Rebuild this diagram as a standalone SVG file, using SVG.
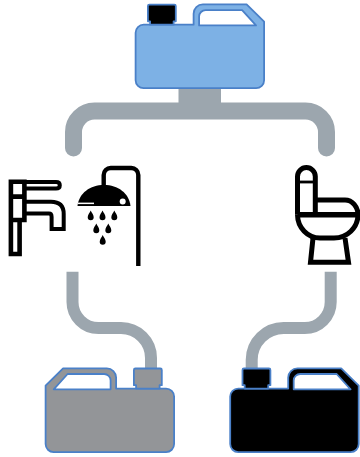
<svg xmlns="http://www.w3.org/2000/svg" xmlns:xlink="http://www.w3.org/1999/xlink" width="360" height="457" viewBox="0 0 360 457">
<style>
.pipe{fill:none;stroke:#9ca6ae}
.outline{stroke:#4a80c8;stroke-width:1.8;stroke-linejoin:round}
.ic{fill:none;stroke:#000;stroke-linejoin:miter}
.drop{fill:#000}
</style>
<defs>
<path id="jug-body" fill-rule="evenodd" d="M8 0H58V-11A9.300 9.300 0 0 1 67.300-20.300H111L128.500-3V55.500A8 8 0 0 1 120.500 63.500H8A8 8 0 0 1 0 55.500V8A8 8 0 0 1 8 0ZM63.500 0.700H120.400L106.500-14.600H70A6.500 6.500 0 0 0 63.500-8.100Z"/>
<path id="jug-cap" d="M14.500-3.400H12.300V-18.700Q12.300-20.100 13.800-20.100H38.700Q40.200-20.100 40.200-18.700V-3.400H38V0H14.500Z"/>
<path id="drop" d="M0-5.500C1 -3 3 -1.500 3 1.300A3 3 0 0 1-3 1.300C-3 -1.500-1 -3 0-5.500Z"/>
</defs>
<g id="connectors">
<path class="pipe" stroke-width="17" stroke-linecap="round" d="M73.500 148V132A21 21 0 0 1 94.500 111H305.500A21 21 0 0 1 326.500 132V148"/>
<rect x="178.500" y="85" width="42.500" height="20" fill="#9ca6ae"/>
<path class="pipe" stroke-width="12" d="M72.500 271.700V302A26 26 0 0 0 98.500 328H121A30 30 0 0 1 151 358V370"/>
<path class="pipe" stroke-width="12" d="M330.700 271.700V302A26 26 0 0 1 304.700 328H284A32 32 0 0 0 251.700 360V370"/>
</g>
<g id="tank-top" transform="translate(135.600 24.700)">
<use xlink:href="#jug-body" href="#jug-body" class="outline" fill="#7db1e5"/>
<use xlink:href="#jug-cap" href="#jug-cap" class="outline" fill="#000"/>
</g>
<g id="faucet">
<path class="ic" stroke-width="4.600" d="M10.900 181.700H24.400V220H10.900ZM10.900 196.600H24.400M10.900 220V254H19.600V220"/>
<path class="ic" stroke-width="4" d="M24.400 182H56Q59.800 182 59.800 185.300Q59.800 188.600 56 188.600H24.400"/>
<path class="ic" stroke-width="4" d="M24.400 201.800H51Q63.700 201.800 63.700 214V229H51.600V217Q51.600 213.600 49 213.600H24.400"/>
</g>
<g id="shower">
<path class="ic" stroke-width="4.400" d="M103.700 186V175A7 7 0 0 1 110.700 168H131.300A7 7 0 0 1 138.300 175V266"/>
<path fill="#000" d="M77.500 206C79 193 90 185 104 185C118 185 129 193 130.500 206Z"/>
<rect x="78" y="202.600" width="16" height="1.500" fill="#fff"/>
<circle cx="122.700" cy="201.600" r="3" fill="#fff"/>
<use xlink:href="#drop" href="#drop" class="drop" x="90.700" y="216"/>
<use xlink:href="#drop" href="#drop" class="drop" x="102.500" y="216"/>
<use xlink:href="#drop" href="#drop" class="drop" x="114.300" y="216"/>
<use xlink:href="#drop" href="#drop" class="drop" x="96.300" y="229"/>
<use xlink:href="#drop" href="#drop" class="drop" x="108.300" y="229"/>
<use xlink:href="#drop" href="#drop" class="drop" x="102.700" y="240.500"/>
</g>
<g id="toilet">
<path class="ic" stroke-width="5" d="M297.500 214.700V176.500A8.900 8.900 0 0 1 315.300 176.500V214.700"/>
<path class="ic" stroke-width="2.800" d="M297.500 182H315.300"/>
<path class="ic" stroke-width="5" d="M315.300 200H345A13 14.700 0 0 1 358 214.700A24 23.500 0 0 1 334 238H320A22.500 23.500 0 0 1 297.500 214.700"/>
<path class="ic" stroke-width="5.500" d="M297.500 214.700H358"/>
<path class="ic" stroke-width="5" d="M313 238L310.500 262.300H348.500L345 238"/>
</g>
<g id="tank-grey" transform="translate(174.100 388.600) scale(-1 1)">
<use xlink:href="#jug-body" href="#jug-body" class="outline" fill="#939598"/>
<use xlink:href="#jug-cap" href="#jug-cap" class="outline" fill="#939598"/>
</g>
<g id="tank-black" transform="translate(230.200 388.600)">
<use xlink:href="#jug-body" href="#jug-body" class="outline" fill="#000"/>
<use xlink:href="#jug-cap" href="#jug-cap" class="outline" fill="#000"/>
</g>
</svg>
